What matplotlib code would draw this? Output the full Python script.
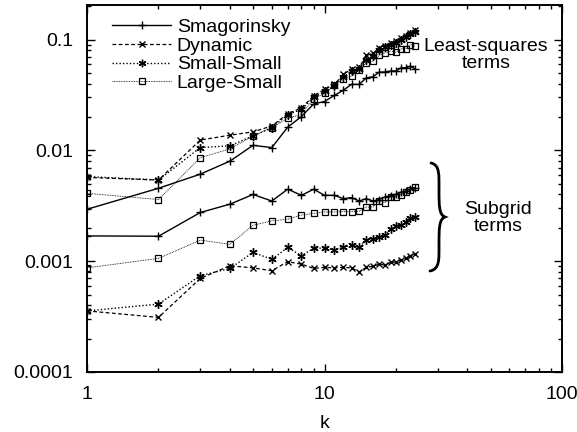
import numpy as np
import matplotlib
matplotlib.use("Agg")
from matplotlib import pyplot as plt
from matplotlib.path import Path
from matplotlib.patches import PathPatch
from matplotlib.lines import Line2D
from matplotlib.ticker import FixedLocator, FixedFormatter, LogLocator, NullFormatter

plt.rcParams['font.family'] = ['Liberation Sans', 'DejaVu Sans']

k = list(range(1, 25))

# least-squares terms
ls_smag = [0.00294, 0.00455, 0.0061, 0.0080, 0.0111, 0.0106, 0.0162, 0.0202, 0.0262, 0.0276,
           0.0313, 0.0349, 0.0394, 0.0394, 0.0452, 0.0461, 0.0508, 0.051, 0.052, 0.052,
           0.0556, 0.0556, 0.0575, 0.0545]
ls_dyn = [0.0057, 0.0054, 0.0124, 0.0137, 0.0147, 0.0166, 0.0214, 0.0242, 0.031, 0.0355,
          0.0394, 0.0484, 0.0545, 0.056, 0.0718, 0.075, 0.084, 0.088, 0.093, 0.097,
          0.103, 0.108, 0.115, 0.121]
ls_ss = [0.0058, 0.0054, 0.0106, 0.011, 0.0135, 0.016, 0.021, 0.0235, 0.030, 0.034,
         0.038, 0.046, 0.052, 0.054, 0.066, 0.071, 0.080, 0.085, 0.090, 0.094,
         0.100, 0.105, 0.112, 0.118]
ls_lsm = [0.0041, 0.0036, 0.0086, 0.0103, 0.0135, 0.016, 0.0195, 0.0211, 0.0292, 0.0327,
          0.0386, 0.0443, 0.0467, 0.053, 0.0617, 0.0637, 0.0718, 0.0759, 0.0785, 0.077,
          0.0825, 0.0825, 0.0902, 0.087]

# subgrid terms
sg_smag = [0.00169, 0.00168, 0.00275, 0.00327, 0.0040, 0.00349, 0.00446, 0.00393, 0.00446, 0.00393,
           0.00393, 0.00367, 0.00375, 0.00349, 0.00367, 0.00349, 0.0036, 0.0038, 0.0039, 0.0040,
           0.0042, 0.0043, 0.0045, 0.0046]
sg_dyn = [0.000356, 0.000311, 0.0007, 0.00091, 0.00087, 0.00082, 0.00099, 0.00094, 0.00086, 0.00088,
          0.00087, 0.00088, 0.00087, 0.0008, 0.00088, 0.0009, 0.00094, 0.00092, 0.00098, 0.00098,
          0.00102, 0.00107, 0.00112, 0.00117]
sg_ss = [0.000356, 0.00041, 0.00074, 0.00086, 0.0012, 0.00104, 0.00133, 0.00112, 0.00131, 0.00131,
         0.00127, 0.00133, 0.0014, 0.00133, 0.00155, 0.0016, 0.00167, 0.00173, 0.00194, 0.00206,
         0.00211, 0.00226, 0.00247, 0.0025]
sg_lsm = [0.00087, 0.00106, 0.00155, 0.00142, 0.00211, 0.00231, 0.00239, 0.00261, 0.0027, 0.00278,
          0.00278, 0.0028, 0.0028, 0.00283, 0.00308, 0.00308, 0.00349, 0.00338, 0.0038, 0.0038,
          0.00393, 0.00418, 0.00437, 0.00463]

names = ['Smagorinsky', 'Dynamic', 'Small-Small', 'Large-Small']
ytick_vals = [0.0001, 0.001, 0.01, 0.1]
ytick_text = ['0.0001', '0.001', '0.01', '0.1']
xtick_vals = [1, 10, 100]
xtick_text = ['1', '10', '100']

asterisk = (6, 2, 0)
styles = [
    dict(ls='-', marker='+', lw=1.0, ms=6, mew=1.0),
    dict(ls=(0, (3, 2)), marker='x', lw=0.9, ms=5, mew=1.0),
    dict(ls=(0, (1, 1.5)), marker=asterisk, lw=1.0, ms=6, mew=1.0),
    dict(ls=(0, (1, 1)), marker='s', lw=0.6, ms=5, mew=0.9, fillstyle='none'),
]

fig = plt.figure(figsize=(5.77, 4.32), dpi=100)
ax = fig.add_axes([87 / 577, 60 / 432, 475 / 577, 367 / 432])

for ys, st in zip([ls_smag, ls_dyn, ls_ss, ls_lsm], styles):
    ax.plot(k, ys, color='black', **st)
for ys, st in zip([sg_smag, sg_dyn, sg_ss, sg_lsm], styles):
    ax.plot(k, ys, color='black', **st)

ax.set_xscale('log')
ax.set_yscale('log')
ax.set_xlim(1, 100)
ax.set_ylim(1e-4, 0.205)

ax.xaxis.set_major_locator(FixedLocator(xtick_vals))
ax.xaxis.set_major_formatter(FixedFormatter(xtick_text))
ax.yaxis.set_major_locator(FixedLocator(ytick_vals))
ax.yaxis.set_major_formatter(FixedFormatter(ytick_text))
ax.xaxis.set_minor_locator(LogLocator(base=10, subs=np.arange(2, 10)))
ax.yaxis.set_minor_locator(LogLocator(base=10, subs=np.arange(2, 10)))
ax.xaxis.set_minor_formatter(NullFormatter())
ax.yaxis.set_minor_formatter(NullFormatter())
ax.tick_params(which='both', direction='in', top=True, right=True, width=1.0)
ax.tick_params(which='major', length=6, labelsize=14)
ax.tick_params(axis='y', which='major', pad=10)
ax.tick_params(axis='x', which='major', pad=10)
ax.tick_params(which='minor', length=3)
for sp in ax.spines.values():
    sp.set_linewidth(1.4)

ax.set_xlabel('k', fontsize=14, labelpad=9)

handles = [Line2D([], [], color='black', **st) for st in styles]
ax.legend(handles, names, loc='upper left', bbox_to_anchor=(0.025, 1.0), frameon=False,
          fontsize=14, handlelength=3.0, handletextpad=0.3, labelspacing=0.05,
          borderaxespad=0.3, markerscale=0.9)

ax.text(0.84, 0.865, 'Least-squares\nterms', transform=ax.transAxes, ha='center',
        va='center', fontsize=14, linespacing=1.0)
ax.text(0.865, 0.42, 'Subgrid\nterms', transform=ax.transAxes, ha='center',
        va='center', fontsize=14, linespacing=1.0)


def px(x, y):
    return ((x - 87) / 475, (372 - y) / 367)


# curly brace next to the subgrid curves
pts = [(431, 163), (440, 165), (439, 175), (439, 190),
       (439, 205), (439, 215), (445, 217),
       (439, 219), (439, 229), (439, 244),
       (439, 259), (440, 269), (430, 271)]
codes = [Path.MOVETO, Path.CURVE4, Path.CURVE4, Path.LINETO,
         Path.CURVE4, Path.CURVE4, Path.CURVE4,
         Path.CURVE4, Path.CURVE4, Path.LINETO,
         Path.CURVE4, Path.CURVE4, Path.CURVE4]
brace = Path([px(*p) for p in pts], codes)
ax.add_patch(PathPatch(brace, transform=ax.transAxes, fill=False, lw=2.0,
                       color='black', clip_on=False, capstyle='round'))

fig.savefig('out.png', dpi=100)
